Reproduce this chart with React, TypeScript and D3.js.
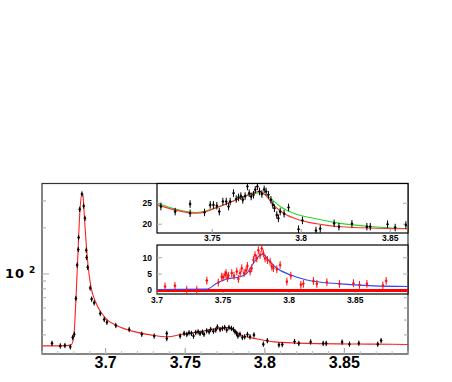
import React from "react";
import * as d3 from "d3";

// main spectrum: data points [mass, value]
const mainPoints: [number, number][] = [
  [3.6663, 35.2], [3.6715, 33.9], [3.6744, 34.1], [3.6778, 33.4], [3.6793, 38.5],
  [3.6803, 40.4], [3.6813, 69.2], [3.6821, 114.3], [3.6828, 144.6], [3.683, 173.1],
  [3.6837, 264.3], [3.6851, 333.3], [3.6862, 278], [3.687, 231], [3.6878, 143],
  [3.688, 128.2], [3.6887, 110.5], [3.6903, 81], [3.6912, 68.5], [3.6928, 64.8],
  [3.6966, 55.2], [3.6991, 50.5], [3.7008, 48.4], [3.7064, 46.1], [3.7148, 43.4],
  [3.7227, 40.4], [3.7305, 39.3], [3.7384, 40.9], [3.7384, 37.9],
  [3.7468, 39.3], [3.7493, 40.9], [3.751, 40.3], [3.7524, 41.3], [3.7539, 40.9],
  [3.7552, 39.3], [3.7566, 41.5], [3.7581, 41.9], [3.7593, 40.9], [3.7608, 41.7],
  [3.7618, 40.4], [3.7635, 42.5], [3.765, 41.9], [3.766, 43.4], [3.7677, 42.3],
  [3.7692, 43.0], [3.7702, 45.1], [3.7719, 43.4], [3.7734, 44.1], [3.7748, 44.7],
  [3.7761, 43.0], [3.7775, 44.7], [3.779, 44.1], [3.7803, 43.4], [3.7813, 41.9],
  [3.7823, 40.9], [3.7831, 39.3], [3.7844, 40.4], [3.7859, 38.5], [3.7874, 38.9],
  [3.7891, 40.3], [3.7907, 38.9], [3.7932, 40.0],
  [3.7991, 34.8], [3.8016, 36.7], [3.8089, 34.4], [3.811, 34.6], [3.8187, 36.2],
  [3.8214, 35.2], [3.8288, 36.0], [3.8367, 35.2], [3.8386, 35.2], [3.8486, 35.9],
  [3.8532, 34.8], [3.8591, 35.3], [3.871, 34.8], [3.8731, 36.7],
];

// main fit curve
const mainFit: [number, number][] = [
  [3.66, 33.9], [3.672, 33.9], [3.6782, 34.3], [3.6799, 38.6], [3.6807, 50],
  [3.6815, 74.6], [3.6824, 123], [3.6832, 193], [3.684, 274], [3.6851, 333],
  [3.6857, 328], [3.6865, 248], [3.6876, 167], [3.689, 112], [3.6907, 83],
  [3.6939, 64.8], [3.697, 56.2], [3.7012, 50], [3.7075, 45.7], [3.7179, 42],
  [3.7284, 40], [3.7389, 38.9], [3.7472, 40.2], [3.7597, 42.2], [3.7702, 44.1],
  [3.7765, 44.6], [3.7806, 43.2], [3.7848, 40], [3.7953, 37.6], [3.8057, 36],
  [3.8267, 35.2], [3.8685, 34.8], [3.89, 34.6],
];

// upper inset: data points
const topPoints: [number, number][] = [
  [3.7212, 24.2], [3.7292, 23.0], [3.7376, 24.8], [3.7376, 22.6], [3.7457, 22.8],
  [3.7489, 24.6], [3.7507, 24.6], [3.7526, 24.4], [3.754, 23.0], [3.756, 25.4],
  [3.7579, 25.4], [3.7592, 24.2], [3.7601, 25.4], [3.762, 27.4], [3.7635, 26.0],
  [3.7648, 26.4], [3.7661, 26.7], [3.7672, 25.8], [3.7685, 26.7], [3.7698, 29.0],
  [3.7708, 27.4], [3.7719, 26.6], [3.7732, 27.0], [3.7742, 28.2], [3.7754, 29.0],
  [3.7766, 27.8], [3.7779, 27.2], [3.7792, 28.3], [3.7803, 27.8], [3.7816, 27.0],
  [3.783, 25.8], [3.7841, 24.6], [3.785, 23.8], [3.7863, 22.2], [3.7872, 21.4],
  [3.7882, 23.0], [3.7904, 22.5], [3.7929, 24.0], [3.7985, 18.8], [3.8007, 20.9],
  [3.8083, 18.5], [3.8107, 18.9], [3.8185, 20.2], [3.8212, 19.4], [3.8285, 20.1],
  [3.8369, 19.4], [3.8388, 19.4], [3.8485, 20.0], [3.8528, 19.2], [3.8588, 19.8],
];

const topGreen: [number, number][] = [
  [3.7193, 25.0], [3.7414, 22.8], [3.7563, 24.6], [3.7657, 26.2], [3.7742, 27.4],
  [3.777, 27.5], [3.7826, 26.2], [3.7882, 24.2], [3.7957, 22.6], [3.8069, 21.4],
  [3.8219, 20.2], [3.8406, 19.4], [3.8605, 18.9],
];

const topRed: [number, number][] = [
  [3.7193, 24.6], [3.7414, 22.6], [3.7563, 24.6], [3.7657, 26.2], [3.7732, 27.5],
  [3.776, 27.8], [3.7798, 27.0], [3.7844, 24.6], [3.7901, 22.6], [3.7976, 21.2],
  [3.8088, 20.1], [3.8219, 19.4], [3.8605, 18.9],
];

// lower inset: data points
const lowPoints: [number, number][] = [
  [3.7061, 1.2], [3.7136, 1.4], [3.7225, 0.2], [3.7301, 0.2], [3.7377, 3.0],
  [3.7464, 2.4], [3.749, 4.2], [3.75, 4.0], [3.7515, 4.8], [3.7523, 5.3],
  [3.7533, 3.8], [3.754, 4.5], [3.7566, 5.3], [3.7583, 4.5], [3.7604, 5.8],
  [3.7616, 3.5], [3.7629, 5.3], [3.7642, 6.8], [3.7659, 5.3], [3.7674, 6.1],
  [3.7684, 7.5], [3.7705, 5.8], [3.7717, 6.8], [3.773, 9.3], [3.7742, 10.8],
  [3.7755, 9.8], [3.7767, 12.3], [3.778, 10.8], [3.7793, 12.8], [3.7805, 11.3],
  [3.7818, 9.8], [3.7836, 9.3], [3.7856, 8.8], [3.7869, 7.3], [3.7881, 6.8],
  [3.7907, 6.5], [3.7932, 7.8], [3.7983, 2.7], [3.8013, 4.5], [3.8089, 1.7],
  [3.8108, 2.0], [3.8184, 2.9], [3.821, 2.0], [3.8286, 2.5], [3.8381, 2.0],
  [3.8487, 2.2], [3.8533, 1.7], [3.8589, 2.0], [3.871, 1.5], [3.8735, 2.9],
];

const lowBlue: [number, number][] = [
  [3.7, 0.3], [3.7377, 0.4], [3.7452, 2.2], [3.7528, 3.5], [3.7629, 4.2],
  [3.768, 5.3], [3.773, 8.3], [3.778, 10.8], [3.78, 11.1], [3.7843, 9.3],
  [3.7907, 6.8], [3.8008, 4.8], [3.8134, 3.2], [3.8386, 2.0], [3.8639, 1.4],
  [3.8907, 1.2],
];

const mainTicks = [3.7, 3.75, 3.8, 3.85];
const mainLogTicks = [40, 50, 60, 70, 80, 90, 100, 200, 300];
const topXTicks = [3.75, 3.8, 3.85];
const topYTicks = [20, 25];
const lowXTicks = [3.7, 3.75, 3.8, 3.85];
const lowYTicks = [0, 5, 10];

const FONT = "'Liberation Sans', Arial, sans-serif";

const M = { l: 42, r: 408, t: 183.5, b: 354 };
const T = { l: 157, r: 408, t: 183.5, b: 233 };
const L = { l: 157, r: 408, t: 245, b: 294 };

const Diamond = ({ x, y, c }: { x: number; y: number; c: string }) => (
  <path d={`M${x},${y - 1.8}L${x + 1.5},${y}L${x},${y + 1.8}L${x - 1.5},${y}Z`} fill={c} />
);

export default function App() {
  const mx = d3.scaleLinear().domain([3.66, 3.89]).range([M.l, M.r]);
  const my = d3.scaleLog().domain([30, 390]).range([M.b, M.t]);
  const tx = d3.scaleLinear().domain([3.719, 3.86]).range([T.l, T.r]);
  const ty = d3.scaleLinear().domain([17.9, 29.7]).range([T.b, T.t]);
  const lx = d3.scaleLinear().domain([3.7, 3.89]).range([L.l, L.r]);
  const ly = d3.scaleLinear().domain([-1.1, 13.9]).range([L.b, L.t]);

  const line = (x: any, y: any) =>
    d3.line<[number, number]>().x((d) => x(d[0])).y((d) => y(d[1])).curve(d3.curveMonotoneX);

  const errs = (pts: [number, number][], x: any, y: any, e: (v: number) => [number, number], c: string) =>
    pts.map((d, i) => {
      const [lo, hi] = e(d[1]);
      return (
        <g key={i}>
          <line x1={x(d[0])} x2={x(d[0])} y1={y(lo)} y2={y(hi)} stroke={c} strokeWidth={1} />
          <Diamond x={x(d[0])} y={y(d[1])} c={c} />
        </g>
      );
    });

  const minorM = d3.range(3.66, 3.891, 0.01);

  return (
    <svg width={452} height={382} style={{ position: "absolute", left: 0, top: 0 }} fontFamily={FONT}>
      <rect width={452} height={382} fill="#fff" />

      {/* main panel */}
      <rect x={M.l} y={M.t} width={M.r - M.l} height={M.b - M.t} fill="#fff" stroke="#333" strokeWidth={1.2} />
      {mainTicks.map((t) => (
        <g key={t}>
          <line x1={mx(t)} x2={mx(t)} y1={M.b} y2={M.b - 6} stroke="#999" />
          <text x={mx(t)} y={368} textAnchor="middle" fontSize={16} fontWeight="bold">{t}</text>
        </g>
      ))}
      {minorM.map((t, i) => (
        <line key={i} x1={mx(t)} x2={mx(t)} y1={M.b} y2={M.b - 3} stroke="#bbb" />
      ))}
      {mainLogTicks.map((t) => (
        <g key={t}>
          <line x1={M.l} x2={M.l + (t === 100 ? 7 : 4)} y1={my(t)} y2={my(t)} stroke="#aaa" />
          <line x1={M.r} x2={M.r - (t === 100 ? 7 : 4)} y1={my(t)} y2={my(t)} stroke="#aaa" />
        </g>
      ))}
      <text x={5} y={278} fontSize={13} fontWeight="bold" letterSpacing={1} fontFamily="'DejaVu Sans', sans-serif">10</text>
      <text x={29} y={272.5} fontSize={9} fontWeight="bold" fontFamily="'DejaVu Sans', sans-serif">2</text>
      <path d={line(mx, my)(mainFit) || ""} fill="none" stroke="#ff2020" strokeWidth={1.1} />
      {errs(mainPoints, mx, my, (v) => [v * 0.96, v * 1.04], "#000")}

      {/* upper inset */}
      <rect x={T.l} y={T.t} width={T.r - T.l} height={T.b - T.t} fill="#fff" stroke="#000" strokeWidth={1.2} />
      {topXTicks.map((t) => (
        <g key={t}>
          <line x1={tx(t)} x2={tx(t)} y1={T.b} y2={T.b - 4} stroke="#999" />
          <text x={tx(t)} y={241} textAnchor="middle" fontSize={8.5} fontWeight="bold">{t}</text>
        </g>
      ))}
      {topYTicks.map((t) => (
        <g key={t}>
          <line x1={T.l} x2={T.l + 5} y1={ty(t)} y2={ty(t)} stroke="#aaa" />
          <line x1={T.r} x2={T.r - 5} y1={ty(t)} y2={ty(t)} stroke="#aaa" />
          <text x={152} y={ty(t) + 3} textAnchor="end" fontSize={8.5} fontWeight="bold">{t}</text>
        </g>
      ))}
      <g clipPath="url(#clipT)">
        <path d={line(tx, ty)(topGreen) || ""} fill="none" stroke="#22dd22" strokeWidth={1.1} />
        <path d={line(tx, ty)(topRed) || ""} fill="none" stroke="#ff3030" strokeWidth={1.1} />
        {errs(topPoints, tx, ty, (v) => [v - 0.9, v + 0.9], "#000")}
      </g>

      {/* lower inset */}
      <rect x={L.l} y={L.t} width={L.r - L.l} height={L.b - L.t} fill="#fff" stroke="#000" strokeWidth={1.2} />
      {lowXTicks.map((t) => (
        <g key={t}>
          <line x1={lx(t)} x2={lx(t)} y1={L.b} y2={L.b - 4} stroke="#999" />
          <text x={lx(t)} y={303} textAnchor="middle" fontSize={8.5} fontWeight="bold">{t}</text>
        </g>
      ))}
      {lowYTicks.map((t) => (
        <g key={t}>
          <line x1={L.l} x2={L.l + 5} y1={ly(t)} y2={ly(t)} stroke="#aaa" />
          <line x1={L.r} x2={L.r - 5} y1={ly(t)} y2={ly(t)} stroke="#aaa" />
          <text x={152} y={ly(t) + 3} textAnchor="end" fontSize={8.5} fontWeight="bold">{t}</text>
        </g>
      ))}
      <g clipPath="url(#clipL)">
        <line x1={lx(3.7)} x2={lx(3.89)} y1={ly(0)} y2={ly(0)} stroke="#ff0000" strokeWidth={3} />
        <path d={line(lx, ly)(lowBlue) || ""} fill="none" stroke="#3344ff" strokeWidth={1.1} />
        {errs(lowPoints, lx, ly, (v) => [v - 1.2, v + 1.2], "#ff1010")}
      </g>

      <defs>
        <clipPath id="clipT">
          <rect x={T.l} y={T.t} width={T.r - T.l} height={T.b - T.t} />
        </clipPath>
        <clipPath id="clipL">
          <rect x={L.l} y={L.t} width={L.r - L.l} height={L.b - L.t} />
        </clipPath>
      </defs>
    </svg>
  );
}
